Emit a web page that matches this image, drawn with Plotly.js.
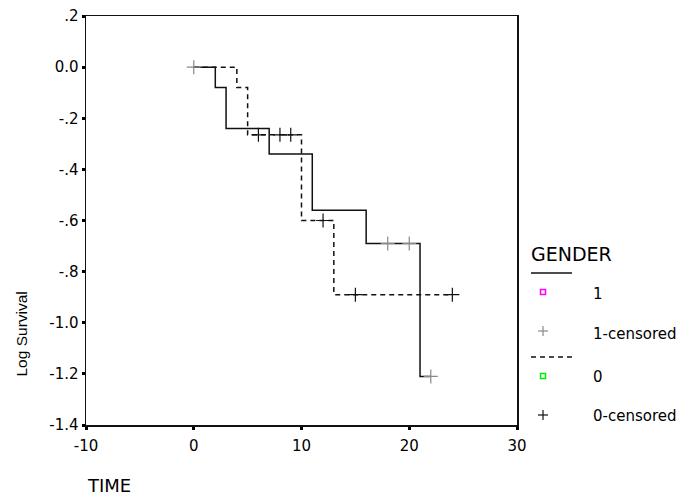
<!DOCTYPE html>
<html>
<head>
<meta charset="utf-8">
<script src="https://cdn.plot.ly/plotly-3.0.1.min.js"></script>
<style>
html,body{margin:0;padding:0;background:#fff;}
#chart{width:678px;height:504px;}
</style>
</head>
<body>
<div id="chart"></div>
<script>
// ---- data ----
var time1 = [0, 2, 3, 7, 11, 16, 21, 22];
var logSurv1 = [0, -0.08, -0.24, -0.34, -0.56, -0.69, -1.21, -1.21];
var cens1Time = [0, 18, 20, 22];
var cens1Val = [0, -0.69, -0.69, -1.21];

var time0 = [0, 4, 5, 10, 13, 24];
var logSurv0 = [0, -0.08, -0.265, -0.6, -0.89, -0.89];
var cens0Time = [6, 8, 9, 12, 15, 24];
var cens0Val = [-0.265, -0.265, -0.265, -0.6, -0.89, -0.89];

var yTickVals = [0.2, 0, -0.2, -0.4, -0.6, -0.8, -1.0, -1.2, -1.4];
var yTickText = ['.2', '0.0', '-.2', '-.4', '-.6', '-.8', '-1.0', '-1.2', '-1.4'];
var xTickVals = [-10, 0, 10, 20, 30];
var xTickText = ['-10', '0', '10', '20', '30'];

var legendLabels = ['1', '1-censored', '0', '0-censored'];
var legendTitle = 'GENDER';

// ---- layout geometry ----
var W = 678, H = 504;
var L = 86, R = 517, T = 16, B = 425;
function px(x){ return (x - L) / (R - L); }
function py(y){ return (B - y) / (B - T); }

var WIDE = 'DejaVu Sans, Verdana, sans-serif';
var NARROW = 'Liberation Sans, Arial, sans-serif';

var traces = [
  {x: time0, y: logSurv0, mode: 'lines', line: {shape: 'hv', color: '#111', width: 1.5, dash: '5px,4px'}, hoverinfo: 'skip'},
  {x: time1, y: logSurv1, mode: 'lines', line: {shape: 'hv', color: '#111', width: 1.5}, hoverinfo: 'skip'},
  {x: cens1Time, y: cens1Val, mode: 'markers', marker: {symbol: 'cross-thin-open', size: 10, color: '#8a8a8a', line: {color: '#8a8a8a', width: 1.2}}},
  {x: cens0Time, y: cens0Val, mode: 'markers', marker: {symbol: 'cross-thin-open', size: 10, color: '#111', line: {color: '#111', width: 1.2}}}
];

var shapes = [];
var annotations = [];

// legend (drawn manually, SPSS style)
function hline(x0, x1, y, dash){
  shapes.push({type: 'line', xref: 'paper', yref: 'paper', x0: px(x0), x1: px(x1), y0: py(y), y1: py(y),
    line: {color: '#111', width: 1.5, dash: dash || 'solid'}});
}
function sq(cx, cy, col){
  shapes.push({type: 'rect', xref: 'paper', yref: 'paper', x0: px(cx - 2.5), x1: px(cx + 2.5), y0: py(cy + 2.5), y1: py(cy - 2.5),
    line: {color: col, width: 1.5}, fillcolor: 'rgba(0,0,0,0)'});
}
function plus(cx, cy, col){
  shapes.push({type: 'line', xref: 'paper', yref: 'paper', x0: px(cx - 5), x1: px(cx + 5), y0: py(cy), y1: py(cy), line: {color: col, width: 1.2}});
  shapes.push({type: 'line', xref: 'paper', yref: 'paper', x0: px(cx), x1: px(cx), y0: py(cy - 5), y1: py(cy + 5), line: {color: col, width: 1.2}});
}
function txt(x, y, s, size, anchor){
  annotations.push({xref: 'paper', yref: 'paper', x: px(x), y: py(y), text: s, showarrow: false,
    xanchor: anchor || 'left', yanchor: 'middle', font: {family: WIDE, size: size, color: '#000'}});
}

txt(529, 254, legendTitle, 19);
hline(531, 572, 273);
sq(543, 292, '#ff00ff');
txt(591, 294, legendLabels[0], 15);
plus(543, 331, '#8a8a8a');
txt(591, 334, legendLabels[1], 15);
hline(531, 572, 357, '5px,4px');
sq(543, 376, '#00ee00');
txt(591, 377, legendLabels[2], 15);
plus(543, 415, '#111');
txt(591, 416, legendLabels[3], 15);

// axis titles
annotations.push({xref: 'paper', yref: 'paper', x: px(85), y: py(485), text: 'TIME', showarrow: false,
  xanchor: 'left', yanchor: 'middle', font: {family: WIDE, size: 18, color: '#000'}});
annotations.push({xref: 'paper', yref: 'paper', x: px(21), y: py(379), text: 'Log Survival', showarrow: false,
  textangle: -90, xanchor: 'center', yanchor: 'bottom', font: {family: NARROW, size: 15.5, color: '#000'}});

var layout = {
  width: W, height: H,
  margin: {l: L, r: W - R, t: T, b: H - B, pad: 0},
  paper_bgcolor: '#fff', plot_bgcolor: '#fff',
  showlegend: false,
  xaxis: {range: [-10, 30], tickvals: xTickVals, ticktext: xTickText, ticks: 'outside', ticklen: 3, tickwidth: 3,
    tickcolor: '#000', showgrid: false, zeroline: false, showline: true, linecolor: '#111', linewidth: 1.5, mirror: true,
    ticklabelstandoff: 3,
    tickfont: {family: WIDE, size: 15, color: '#000'}},
  yaxis: {range: [-1.4, 0.2], tickvals: yTickVals, ticktext: yTickText, ticks: 'outside', ticklen: 3, tickwidth: 3,
    tickcolor: '#000', showgrid: false, zeroline: false, showline: true, linecolor: '#111', linewidth: 1.5, mirror: true,
    tickfont: {family: WIDE, size: 15, color: '#000'}},
  shapes: shapes,
  annotations: annotations
};

Plotly.newPlot('chart', traces, layout, {displayModeBar: false, staticPlot: true});
</script>
</body>
</html>
